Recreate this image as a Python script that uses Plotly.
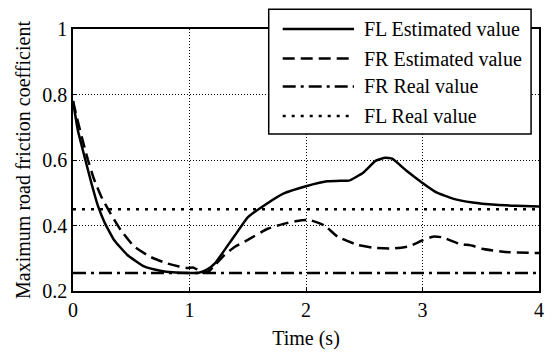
import plotly.graph_objects as go

# ---- data ----
t_fl = [0, 0.042, 0.099, 0.156, 0.212, 0.27, 0.354, 0.467, 0.61, 0.75, 0.85, 1.02, 1.08,
        1.15, 1.22, 1.33, 1.39, 1.5, 1.67, 1.81, 2.0, 2.18, 2.3, 2.37, 2.49, 2.6, 2.68,
        2.74, 2.86, 3.0, 3.12, 3.26, 3.43, 3.63, 3.8, 4.0]
fl_est = [0.78, 0.69, 0.61, 0.532, 0.462, 0.41, 0.355, 0.31, 0.275, 0.262, 0.257, 0.255,
          0.256, 0.265, 0.285, 0.34, 0.37, 0.425, 0.468, 0.498, 0.52, 0.535, 0.537, 0.537,
          0.561, 0.598, 0.607, 0.604, 0.568, 0.53, 0.501, 0.482, 0.47, 0.463, 0.46, 0.458]

t_fr = [0, 0.04, 0.09, 0.127, 0.18, 0.24, 0.325, 0.41, 0.524, 0.66, 0.8, 0.91, 0.98, 1.03,
        1.07, 1.1, 1.16, 1.2, 1.3, 1.39, 1.5, 1.67, 1.81, 1.96, 2.04, 2.16, 2.27, 2.44, 2.58,
        2.75, 2.89, 3.0, 3.09, 3.17, 3.31, 3.43, 3.51, 3.71, 4.0]
fr_est = [0.78, 0.72, 0.65, 0.602, 0.542, 0.49, 0.435, 0.386, 0.336, 0.305, 0.285, 0.275,
          0.27, 0.272, 0.265, 0.257, 0.258, 0.272, 0.31, 0.335, 0.356, 0.39, 0.405, 0.416,
          0.416, 0.40, 0.366, 0.341, 0.332, 0.33, 0.337, 0.355, 0.366, 0.364, 0.345, 0.338,
          0.329, 0.319, 0.316]

t_real = [0, 4]
fr_real = [0.255, 0.255]
fl_real = [0.45, 0.45]

legend_labels = ["FL Estimated value", "FR Estimated value", "FR Real value", "FL Real value"]
x_ticks = [0, 1, 2, 3, 4]
y_ticks = [0.2, 0.4, 0.6, 0.8, 1]
y_tick_text = ["0.2", "0.4", "0.6", "0.8", "1"]

FONT = "Liberation Serif, Times New Roman, serif"
DASHES = ["solid", "12px,6px", "13px,5px,3px,5px", "3px,6px"]

fig = go.Figure()
series = [(t_fl, fl_est), (t_fr, fr_est), (t_real, fr_real), (t_real, fl_real)]
for i, (xs, ys) in enumerate(series):
    fig.add_trace(go.Scatter(
        x=xs, y=ys, mode="lines", name=legend_labels[i],
        line=dict(color="black", width=2.5, dash=DASHES[i],
                  shape="spline" if i < 2 else "linear", smoothing=0.4),
        showlegend=False))

# ---- manual legend (paper coordinates) ----
L, R, T, B = 0.420, 0.983, 1.0756, 0.599
fig.add_shape(type="rect", xref="paper", yref="paper", x0=L, x1=R, y0=B, y1=T,
              line=dict(color="black", width=1.5), fillcolor="white", layer="above")
row_y = [1.0, 0.887, 0.781, 0.668]
for i, lab in enumerate(legend_labels):
    fig.add_shape(type="line", xref="paper", yref="paper",
                  x0=0.450, x1=0.603, y0=row_y[i], y1=row_y[i],
                  line=dict(color="black", width=2.5, dash=DASHES[i]), layer="above")
    fig.add_annotation(xref="paper", yref="paper", x=0.620, y=row_y[i], text=lab,
                       showarrow=False, xanchor="left", yanchor="middle",
                       font=dict(family=FONT, size=20, color="black"))

axis_common = dict(showline=True, linecolor="black", linewidth=1.6, mirror=True,
                   showgrid=True, gridcolor="black", gridwidth=1, griddash="1px,2px",
                   zeroline=False, ticks="inside", ticklen=4, tickcolor="black",
                   tickfont=dict(family=FONT, size=20, color="black"))

fig.update_xaxes(range=[0, 4], tickvals=x_ticks, ticktext=[str(v) for v in x_ticks],
                 title=dict(text="Time (s)", font=dict(family=FONT, size=20, color="black"),
                            standoff=11),
                 **axis_common)
fig.update_yaxes(range=[0.2, 1], tickvals=y_ticks, ticktext=y_tick_text,
                 title=dict(text="Maximum road friction coefficient",
                            font=dict(family=FONT, size=20, color="black"), standoff=6),
                 **axis_common)

fig.update_layout(width=554, height=356, margin=dict(l=73, r=10, t=29, b=62),
                  paper_bgcolor="white", plot_bgcolor="white", showlegend=False)

fig.write_html("out.html")
